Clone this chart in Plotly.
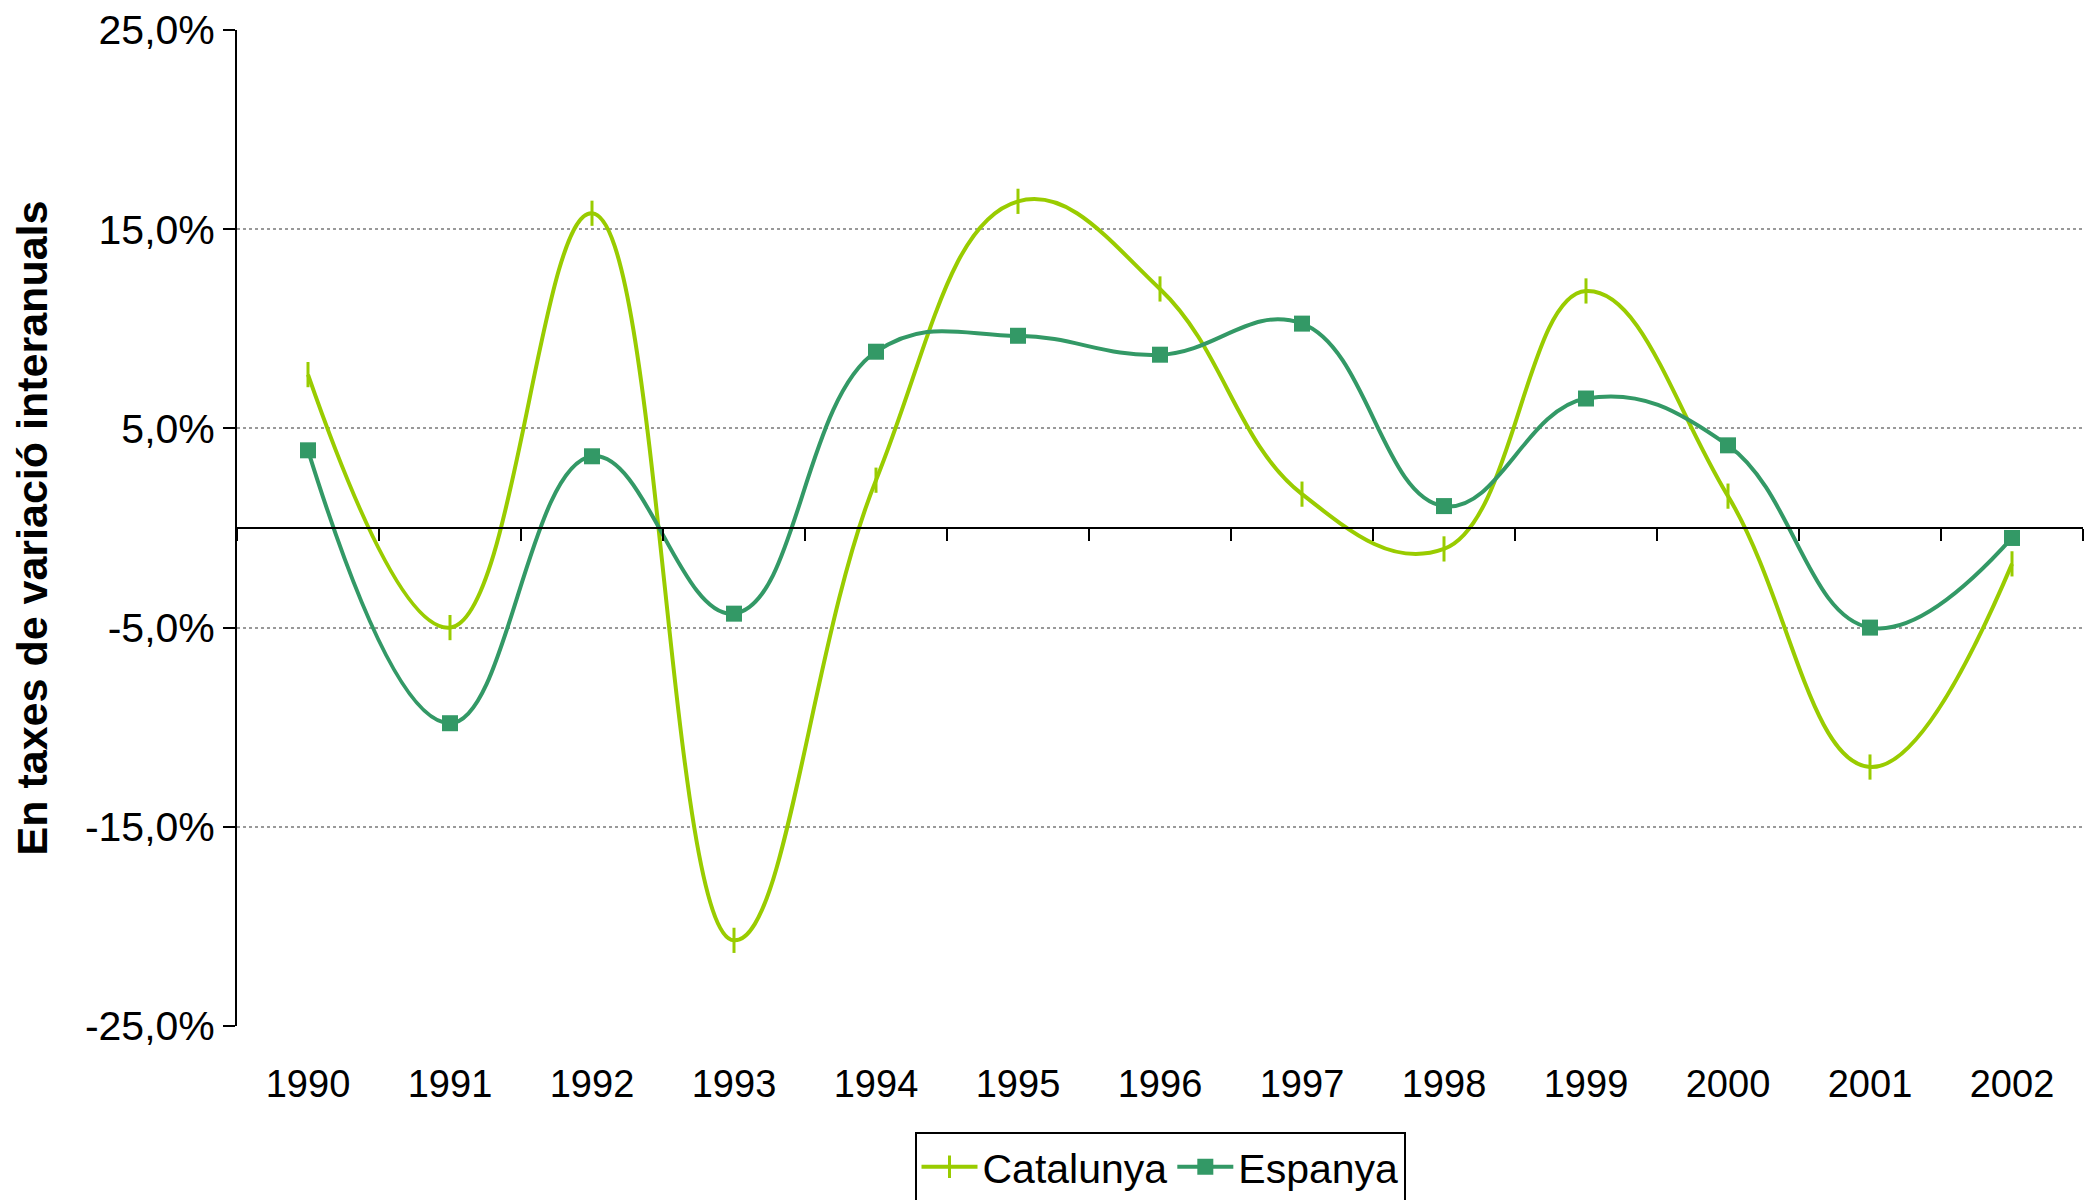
import plotly.graph_objects as go

years = ["1990", "1991", "1992", "1993", "1994", "1995", "1996",
         "1997", "1998", "1999", "2000", "2001", "2002"]
catalunya = [7.7, -5.0, 15.8, -20.7, 2.4, 16.4, 12.0, 1.7, -1.05, 11.9, 1.6, -12.0, -1.8]
espanya = [3.9, -9.8, 3.6, -4.3, 8.85, 9.65, 8.7, 10.26, 1.1, 6.5, 4.15, -5.0, -0.5]

y_tickvals = [-25, -15, -5, 5, 15, 25]
y_ticktext = ["-25,0%", "-15,0%", "-5,0%", "5,0%", "15,0%", "25,0%"]

FONT = "Liberation Sans, Arial, sans-serif"
idx = list(range(len(years)))

fig = go.Figure()
fig.add_trace(go.Scatter(
    x=idx, y=catalunya, name="Catalunya", mode="lines+markers",
    line=dict(color="#99CC00", width=4, shape="spline", smoothing=1.2),
    marker=dict(symbol="line-ns", size=18, line=dict(color="#99CC00", width=3)),
))
fig.add_trace(go.Scatter(
    x=idx, y=espanya, name="Espanya", mode="lines+markers",
    line=dict(color="#339966", width=4, shape="spline", smoothing=1.2),
    marker=dict(symbol="square", size=16, color="#339966"),
))

fig.update_layout(
    width=2085, height=1192,
    margin=dict(l=229, r=10, t=22, b=174, autoexpand=False),
    paper_bgcolor="white", plot_bgcolor="white",
    font=dict(family=FONT, size=38, color="black"),
    showlegend=True,
    legend=dict(orientation="h", x=0.5, xanchor="center", y=-0.106, yanchor="top",
                bordercolor="black", borderwidth=2, font=dict(size=41),
                itemwidth=56, tracegroupgap=0),
    xaxis=dict(
        range=[-0.5, 12.5], tickmode="array", tickvals=idx, ticktext=years,
        showline=False, showgrid=False, zeroline=False,
        ticks="outside", ticklen=24, tickcolor="rgba(0,0,0,0)",
        tickfont=dict(size=38),
    ),
    xaxis2=dict(
        overlaying="x", anchor="free", position=0.5, side="bottom",
        range=[-0.5, 12.5], tickmode="array",
        tickvals=[i - 0.5 for i in range(len(years) + 1)],
        showticklabels=False, showline=True, linecolor="black", linewidth=2,
        ticks="outside", ticklen=12, tickwidth=2, tickcolor="black",
        showgrid=False, zeroline=False,
    ),
    yaxis=dict(
        range=[-25, 25], tickmode="array", tickvals=y_tickvals, ticktext=y_ticktext,
        showline=True, linecolor="black", linewidth=2,
        ticks="outside", ticklen=12, tickwidth=2, tickcolor="black",
        ticklabeloverflow="allow",
        showgrid=True, gridcolor="#999999", gridwidth=1.5, griddash="dot",
        zeroline=True, zerolinecolor="black", zerolinewidth=2,
        tickfont=dict(size=41),
        title=dict(text="<b>En taxes de variació interanuals</b>",
                   font=dict(size=43, family=FONT), standoff=35),
    ),
)
fig.add_trace(go.Scatter(x=[None], y=[None], xaxis="x2", showlegend=False,
                         hoverinfo="skip"))

fig.write_html("out.html")
